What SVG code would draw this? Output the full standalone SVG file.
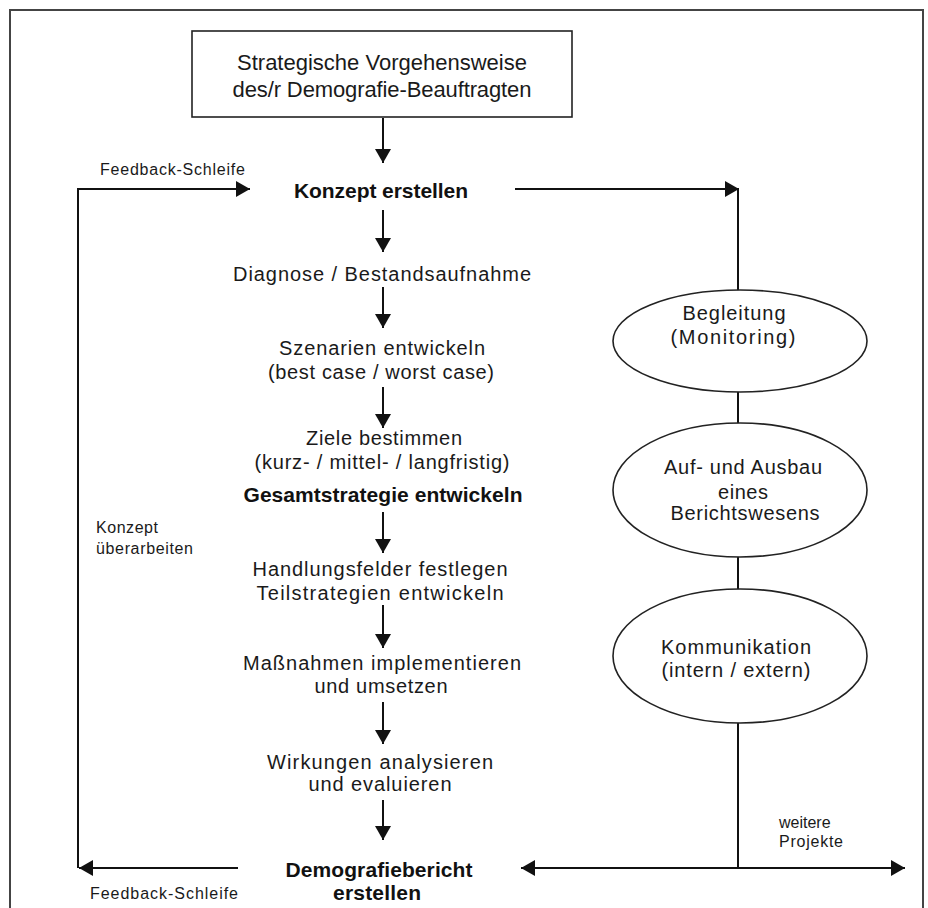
<svg xmlns="http://www.w3.org/2000/svg" width="928" height="908" viewBox="0 0 928 908">
<style>
  .t{font-family:"Liberation Sans",Arial,sans-serif;font-size:20px;fill:#1a1a1a;text-anchor:middle}
  .b{font-family:"Liberation Sans",Arial,sans-serif;font-size:21px;font-weight:bold;fill:#111;text-anchor:middle}
  .s{font-family:"Liberation Sans",Arial,sans-serif;font-size:16px;fill:#1a1a1a}
  .h{font-family:"Liberation Sans",Arial,sans-serif;font-size:22px;fill:#1a1a1a;text-anchor:middle}
  .ln{stroke:#111;stroke-width:2;fill:none}
  .arr{stroke:#111;stroke-width:2;fill:none;marker-end:url(#ah)}
  .shape{fill:#fff;stroke:#222;stroke-width:1.6}
</style>
<defs>
  <marker id="ah" viewBox="0 0 14 16" refX="14" refY="8" markerWidth="14" markerHeight="16" markerUnits="userSpaceOnUse" orient="auto-start-reverse">
    <path d="M0,0 L14,8 L0,16 z" fill="#111"/>
  </marker>
</defs>
<rect width="928" height="908" fill="#fff"/>
<g id="frame">
  <path d="M10,908 V10 H923 V908" fill="none" stroke="#444" stroke-width="2"/>
</g>
<g id="connectors">
  <line class="arr" x1="383" y1="118" x2="383" y2="163"/>
  <line class="arr" x1="383" y1="210" x2="383" y2="252"/>
  <line class="arr" x1="383" y1="287" x2="383" y2="328"/>
  <line class="arr" x1="383" y1="387" x2="383" y2="428"/>
  <line class="arr" x1="383" y1="512" x2="383" y2="553"/>
  <line class="arr" x1="383" y1="605" x2="383" y2="648"/>
  <line class="arr" x1="383" y1="702" x2="383" y2="744"/>
  <line class="arr" x1="383" y1="800" x2="383" y2="840"/>
  <line class="arr" x1="238" y1="868" x2="79" y2="868"/>
  <line class="ln" x1="78" y1="868" x2="78" y2="189"/>
  <line class="arr" x1="77" y1="189" x2="250" y2="189"/>
  <line class="arr" x1="515" y1="189" x2="739" y2="189"/>
  <line class="ln" x1="738" y1="189" x2="738" y2="291"/>
  <line class="ln" x1="738" y1="392" x2="738" y2="424"/>
  <line class="ln" x1="738" y1="557" x2="738" y2="589"/>
  <line class="ln" x1="738" y1="723" x2="738" y2="868"/>
  <line class="arr" x1="738" y1="868" x2="521" y2="868"/>
  <line class="arr" x1="738" y1="868" x2="905" y2="868"/>
</g>
<g id="start">
  <rect class="shape" x="192" y="31" width="380" height="86"/>
  <text class="h" x="382" y="70" textLength="290">Strategische Vorgehensweise</text>
  <text class="h" x="382" y="97" textLength="299">des/r Demografie-Beauftragten</text>
</g>
<g id="konzept"><text class="b" x="381" y="198" textLength="174">Konzept erstellen</text></g>
<g id="diagnose"><text class="t" x="382" y="281" textLength="298">Diagnose / Bestandsaufnahme</text></g>
<g id="szenarien">
  <text class="t" x="382" y="355" textLength="206">Szenarien entwickeln</text>
  <text class="t" x="381" y="379" textLength="226">(best case / worst case)</text>
</g>
<g id="ziele">
  <text class="t" x="384" y="445" textLength="156">Ziele bestimmen</text>
  <text class="t" x="382" y="469" textLength="255">(kurz- / mittel- / langfristig)</text>
</g>
<g id="gesamt"><text class="b" x="383" y="502" textLength="279">Gesamtstrategie entwickeln</text></g>
<g id="handlung">
  <text class="t" x="380" y="576" textLength="255">Handlungsfelder festlegen</text>
  <text class="t" x="380" y="600" textLength="247">Teilstrategien entwickeln</text>
</g>
<g id="massnahmen">
  <text class="t" x="382" y="670" textLength="278">Maßnahmen implementieren</text>
  <text class="t" x="381" y="693" textLength="133">und umsetzen</text>
</g>
<g id="wirkungen">
  <text class="t" x="380" y="769" textLength="226">Wirkungen analysieren</text>
  <text class="t" x="380" y="791" textLength="143">und evaluieren</text>
</g>
<g id="bericht">
  <text class="b" x="379" y="877" textLength="187">Demografiebericht</text>
  <text class="b" x="377" y="900" textLength="88">erstellen</text>
</g>
<g id="feedback-top"><text class="s" x="100" y="175" textLength="145">Feedback-Schleife</text></g>
<g id="feedback-bottom"><text class="s" x="90" y="899" textLength="148">Feedback-Schleife</text></g>
<g id="ueberarbeiten">
  <text class="s" x="96" y="533" textLength="62">Konzept</text>
  <text class="s" x="96" y="554" textLength="97">überarbeiten</text>
</g>
<g id="weitere">
  <text class="s" x="779" y="828">weitere</text>
  <text class="s" x="779" y="847" textLength="64">Projekte</text>
</g>
<g id="begleitung">
  <ellipse class="shape" cx="740" cy="341" rx="127" ry="51"/>
  <text class="t" x="734" y="320" textLength="103">Begleitung</text>
  <text class="t" x="733" y="344" textLength="125">(Monitoring)</text>
</g>
<g id="berichtswesen">
  <ellipse class="shape" cx="740" cy="490" rx="127" ry="67"/>
  <text class="t" x="743" y="474" textLength="158">Auf- und Ausbau</text>
  <text class="t" x="743" y="499" textLength="50">eines</text>
  <text class="t" x="745" y="520" textLength="149">Berichtswesens</text>
</g>
<g id="kommunikation">
  <ellipse class="shape" cx="740" cy="656" rx="127" ry="67"/>
  <text class="t" x="736" y="654" textLength="150">Kommunikation</text>
  <text class="t" x="736" y="677" textLength="149">(intern / extern)</text>
</g>
</svg>
